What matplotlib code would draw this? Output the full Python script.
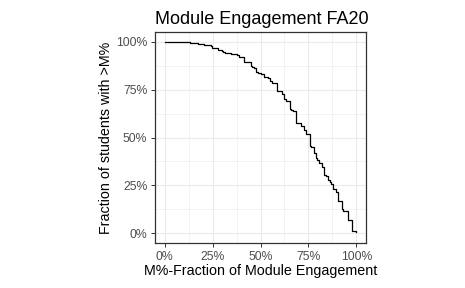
import numpy as np
import matplotlib.pyplot as plt
from matplotlib.ticker import PercentFormatter, MultipleLocator

plt.rcParams['font.family'] = ['Liberation Sans', 'DejaVu Sans']

# step positions (M%) and the fraction of students above each
m_frac = [0.0, 0.134, 0.172, 0.204, 0.242, 0.246, 0.277, 0.300, 0.307, 0.317,
          0.345, 0.376, 0.390, 0.413, 0.448, 0.455, 0.465, 0.479, 0.486, 0.500,
          0.517, 0.538, 0.552, 0.559, 0.587, 0.592, 0.613, 0.622, 0.634, 0.652,
          0.659, 0.672, 0.686, 0.713, 0.726, 0.737, 0.758, 0.763, 0.777, 0.791,
          0.796, 0.805, 0.821, 0.831, 0.841, 0.852, 0.861, 0.868, 0.878, 0.895,
          0.906, 0.927, 0.930, 0.955, 0.965, 0.977, 1.0]
frac_above = [1.0, 0.993, 0.988, 0.984, 0.976, 0.969, 0.958, 0.951, 0.946, 0.941,
              0.935, 0.928, 0.921, 0.894, 0.874, 0.867, 0.860, 0.843, 0.838, 0.832,
              0.815, 0.810, 0.792, 0.784, 0.745, 0.740, 0.728, 0.703, 0.691, 0.649,
              0.644, 0.640, 0.578, 0.558, 0.539, 0.517, 0.457, 0.450, 0.417, 0.391,
              0.384, 0.365, 0.347, 0.307, 0.300, 0.277, 0.269, 0.258, 0.229, 0.218,
              0.171, 0.129, 0.115, 0.072, 0.068, 0.010, 0.005]

fig = plt.figure(figsize=(4.65, 2.88), dpi=100)
ax = fig.add_axes([155 / 465, 1 - 243 / 288, 211 / 465, 211 / 288])

ax.step(m_frac, frac_above, where='post', color='black', lw=0.9)

ax.set_xlim(-0.05, 1.05)
ax.set_ylim(-0.05, 1.05)
ax.xaxis.set_major_locator(MultipleLocator(0.25))
ax.yaxis.set_major_locator(MultipleLocator(0.25))
ax.xaxis.set_minor_locator(MultipleLocator(0.125))
ax.yaxis.set_minor_locator(MultipleLocator(0.125))
ax.xaxis.set_major_formatter(PercentFormatter(1.0, decimals=0))
ax.yaxis.set_major_formatter(PercentFormatter(1.0, decimals=0))

ax.grid(which='major', color='#EBEBEB', lw=0.8)
ax.grid(which='minor', color='#EBEBEB', lw=0.4)
ax.set_axisbelow(True)
ax.tick_params(which='minor', length=0)
ax.tick_params(which='major', length=3, width=0.7, color='#333333',
               labelsize=8.8, labelcolor='#4D4D4D', pad=2.5)
for s in ax.spines.values():
    s.set_color('#333333')
    s.set_linewidth(0.9)

ax.set_xlabel('M%-Fraction of Module Engagement', fontsize=10.3, labelpad=1)
ax.set_ylabel('Fraction of students with >M%', fontsize=10.3, labelpad=2.5)
ax.set_title('Module Engagement FA20', fontsize=13.0, loc='left', pad=6)

fig.savefig('out.png', dpi=100)
